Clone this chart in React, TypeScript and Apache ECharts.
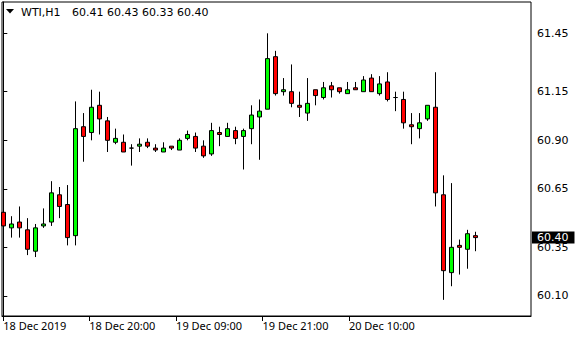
import React, { useEffect, useRef } from "react";
import * as echarts from "echarts";

// Chart identity
const symbolName = "WTI";
const timeframe = "H1";

// OHLC values per H1 bar (oldest first)
const opens = [
  60.53, 60.45, 60.48, 60.44, 60.33, 60.46, 60.48, 60.62, 60.57, 60.41,
  60.97, 60.94, 61.08, 61.0, 60.89, 60.89, 60.86, 60.87, 60.89, 60.86,
  60.84, 60.87, 60.85, 60.91, 60.92, 60.87, 60.83, 60.94, 60.92, 60.95,
  60.92, 60.96, 61.02, 61.06, 61.33, 61.15, 61.15, 61.08, 61.04, 61.16,
  61.12, 61.18, 61.17, 61.14, 61.17, 61.15, 61.22, 61.14, 61.2, 61.12,
  61.11, 60.98, 60.96, 61.01, 61.07, 60.62, 60.22, 60.36, 60.34, 60.41,
];
const closes = [
  60.46, 60.47, 60.45, 60.34, 60.45, 60.47, 60.63, 60.56, 60.4, 60.96,
  60.92, 61.07, 61.01, 60.9, 60.91, 60.84, 60.86, 60.88, 60.87, 60.85,
  60.86, 60.86, 60.9, 60.93, 60.86, 60.82, 60.95, 60.93, 60.96, 60.91,
  60.95, 61.03, 61.05, 61.32, 61.14, 61.16, 61.09, 61.07, 61.09, 61.13,
  61.17, 61.16, 61.15, 61.16, 61.16, 61.21, 61.15, 61.19, 61.11, 61.12,
  60.99, 60.97, 60.99, 61.08, 60.63, 60.23, 60.35, 60.35, 60.42, 60.4,
];
const lows = [
  60.4, 60.4, 60.4, 60.31, 60.3, 60.45, 60.46, 60.5, 60.36, 60.36,
  60.79, 60.9, 60.93, 60.84, 60.88, 60.84, 60.77, 60.84, 60.86, 60.84,
  60.84, 60.85, 60.85, 60.9, 60.84, 60.81, 60.82, 60.87, 60.92, 60.88,
  60.75, 60.88, 60.8, 61.06, 61.13, 61.13, 61.07, 61.02, 61.0, 61.08,
  61.11, 61.12, 61.14, 61.14, 61.16, 61.15, 61.15, 61.13, 61.1, 61.05,
  60.96, 60.88, 60.91, 61.0, 60.56, 60.08, 60.15, 60.21, 60.24, 60.33,
];
const highs = [
  60.53, 60.51, 60.56, 60.5, 60.47, 60.55, 60.69, 60.66, 60.67, 61.1,
  61.04, 61.16, 61.15, 61.02, 60.96, 60.93, 60.88, 60.91, 60.91, 60.88,
  60.89, 60.87, 60.91, 60.95, 60.94, 60.9, 60.99, 60.97, 60.99, 60.97,
  60.96, 61.08, 61.11, 61.45, 61.36, 61.22, 61.29, 61.15, 61.22, 61.16,
  61.2, 61.2, 61.17, 61.2, 61.2, 61.23, 61.24, 61.23, 61.25, 61.15,
  61.15, 61.04, 61.04, 61.08, 61.25, 60.72, 60.68, 60.39, 60.44, 60.43,
];

// Time scale labels and where they fall on the bar index scale
const timeLabels = ["18 Dec 2019", "18 Dec 20:00", "19 Dec 09:00", "19 Dec 21:00", "20 Dec 10:00"];
const timeLabelBars = [0, 10.75, 21.6, 32.4, 43.2];

// Price scale labels
const priceTicks = [60.1, 60.35, 60.65, 60.9, 61.15, 61.45];

export default function App() {
  const ref = useRef<HTMLDivElement>(null);

  useEffect(() => {
    if (!ref.current) return;
    const chart = echarts.init(ref.current, null, { renderer: "svg" });

    const candles = opens.map((o, i) => [i, o, closes[i], lows[i], highs[i]]);
    const last = opens.length - 1;
    const lastClose = closes[last];
    const ohlcText = [opens[last], highs[last], lows[last], closes[last]]
      .map((v) => v.toFixed(2))
      .join(" ");

    const gridLeft = 2;
    const gridTop = 2;
    const gridWidth = 529;
    const gridHeight = 314;
    const barPx = 8;
    const firstBarOffset = 1.3; // px from the left border to the first bar's centre
    const xMin = -firstBarOffset / barPx;
    const xMax = xMin + gridWidth / barPx;

    chart.setOption({
      animation: false,
      backgroundColor: "#fff",
      grid: {
        left: gridLeft,
        top: gridTop,
        width: gridWidth,
        height: gridHeight,
        show: true,
        borderColor: "#000",
        borderWidth: 1,
        backgroundColor: "#fff",
      },
      xAxis: {
        type: "value",
        min: xMin,
        max: xMax,
        position: "bottom",
        axisLine: { show: true, onZero: false, lineStyle: { color: "#000", width: 1 } },
        axisTick: {
          show: true,
          customValues: timeLabelBars,
          length: 5,
          lineStyle: { color: "#000", width: 1 },
        },
        axisLabel: {
          show: true,
          customValues: timeLabelBars,
          formatter: (v: number) => {
            const idx = timeLabelBars.findIndex((b) => Math.abs(b - v) < 1e-6);
            return idx >= 0 ? timeLabels[idx] : "";
          },
          align: "left",
          margin: 4,
          color: "#000",
          fontFamily: "Noto Sans",
          fontSize: 11,
        },
        splitLine: { show: false },
      },
      yAxis: {
        type: "value",
        position: "right",
        min: 59.997,
        max: 61.611,
        scale: true,
        axisLine: { show: true, lineStyle: { color: "#000", width: 1 } },
        axisTick: {
          show: true,
          customValues: priceTicks,
          length: 4,
          lineStyle: { color: "#000", width: 1 },
        },
        axisLabel: {
          show: true,
          customValues: priceTicks,
          formatter: (v: number) => v.toFixed(2),
          margin: 6,
          color: "#000",
          fontFamily: "DejaVu Sans",
          fontSize: 11,
        },
        splitLine: { show: false },
      },
      series: [
        {
          type: "candlestick",
          data: candles,
          barWidth: 5,
          clip: true,
          itemStyle: {
            color: "#00ff00",
            color0: "#ff0000",
            borderColor: "#000",
            borderColor0: "#000",
            borderColorDoji: "#000",
            borderWidth: 1,
          },
          markLine: {
            silent: true,
            symbol: ["none", "none"],
            lineStyle: { color: "transparent", width: 0 },
            label: {
              show: true,
              position: "end",
              distance: 1,
              formatter: () => lastClose.toFixed(2),
              backgroundColor: "#000",
              color: "#fff",
              fontFamily: "DejaVu Sans",
              fontSize: 11,
              lineHeight: 12,
              padding: [0, 6, 0, 5],
            },
            data: [{ yAxis: lastClose }],
          },
        },
      ],
      graphic: [
        {
          type: "polygon",
          shape: { points: [[6, 9], [14, 9], [10, 13.5]] },
          style: { fill: "#000" },
          silent: true,
        },
        {
          type: "text",
          x: 21,
          y: 12,
          style: {
            text: `${symbolName},${timeframe}`,
            fill: "#000",
            font: "11px 'DejaVu Sans'",
            verticalAlign: "middle",
          },
          silent: true,
        },
        {
          type: "text",
          x: 72,
          y: 12,
          style: {
            text: ohlcText,
            fill: "#000",
            font: "11px 'DejaVu Sans'",
            verticalAlign: "middle",
          },
          silent: true,
        },
      ],
    });

    return () => chart.dispose();
  }, []);

  return (
    <div
      ref={ref}
      style={{ position: "absolute", left: 0, top: 0, width: 580, height: 340, background: "#fff" }}
    />
  );
}
